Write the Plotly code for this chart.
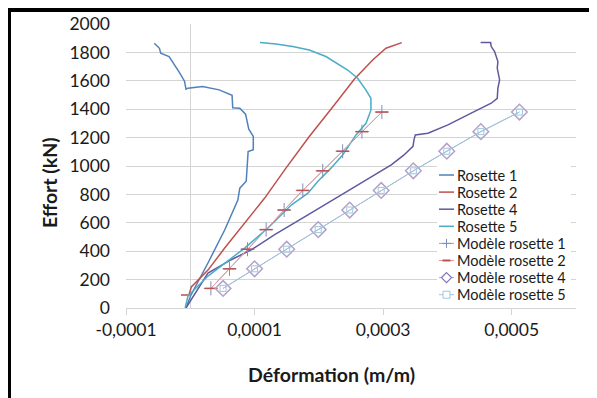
import plotly.graph_objects as go

# ---------------- data ----------------
r1_x = [-0.0000067, 0.000001, 0.0000275, 0.0000535, 0.000074, 0.000077, 0.000087, 0.000088,
        0.000090, 0.000098, 0.000098, 0.000091, 0.000086, 0.000077, 0.000066, 0.000065,
        0.000045, 0.000019, -0.0000036, -0.0000067, -0.000009, -0.000017, -0.000025,
        -0.000033, -0.000046, -0.000048, -0.000056]
r1_y = [0, 91, 317, 549, 760, 844, 893, 985, 1102, 1114, 1208, 1259, 1365, 1407, 1410, 1498,
        1536, 1560, 1548, 1541, 1597, 1660, 1712, 1771, 1794, 1829, 1864]

r2_x = [-0.0000145, -0.000002, 0.0000016, 0.0000275, 0.0000535, 0.0000846, 0.0001157,
        0.0001488, 0.0001851, 0.0002188, 0.0002551, 0.0002837, 0.0003044, 0.000329]
r2_y = [91, 91, 148, 267, 422, 598, 774, 985, 1208, 1400, 1611, 1747, 1829, 1869]

r4_x = [-0.0000067, 0.0000275, 0.0000638, 0.0000949, 0.0001313, 0.0001675, 0.000183,
        0.0002479, 0.0003126, 0.000332, 0.0003464, 0.000348, 0.00035, 0.0003697,
        0.0004008, 0.000437, 0.0004681, 0.0004775, 0.0004785, 0.0004812, 0.0004775,
        0.0004785, 0.0004734, 0.0004681, 0.0004672, 0.0004516]
r4_y = [0, 246, 340, 410, 516, 610, 656, 832, 1008, 1076, 1138, 1184, 1219, 1231, 1290,
        1372, 1442, 1477, 1548, 1606, 1688, 1735, 1806, 1841, 1869, 1869]

r5_x = [-0.000008, -0.0000036, 0.0000275, 0.0000535, 0.0000846, 0.0001208, 0.0001571,
        0.000183, 0.0001986, 0.0002188, 0.000237, 0.0002577, 0.0002733, 0.000281, 0.000281,
        0.0002733, 0.0002603, 0.0002448, 0.0002317, 0.000211, 0.0001851, 0.0001593,
        0.0001333, 0.0001084]
r5_y = [0, 84, 225, 317, 422, 563, 725, 809, 893, 985, 1078, 1219, 1301, 1393, 1477, 1534,
        1618, 1676, 1712, 1771, 1817, 1841, 1859, 1869]

m12_x = [0.000032, 0.000061, 0.000089, 0.000118, 0.000146, 0.000175, 0.000206, 0.000237,
         0.000267, 0.000298]
m45_x = [0.000051, 0.000100, 0.000150, 0.000199, 0.000248, 0.000297, 0.000347, 0.000399,
         0.000452, 0.000512]
model_y = [138, 276, 414, 552, 690, 828, 966, 1104, 1242, 1380]

series_names = ["Rosette 1", "Rosette 2", "Rosette 4", "Rosette 5",
                "Modèle rosette 1", "Modèle rosette 2", "Modèle rosette 4", "Modèle rosette 5"]

x_ticks = [-0.0001, 0.0001, 0.0003, 0.0005]
x_tick_labels = ["-0,0001", "0,0001", "0,0003", "0,0005"]
y_ticks = list(range(0, 2001, 200))

# ---------------- styles ----------------
C_R1, C_R2, C_R4, C_R5 = "#4F81BD", "#C0504D", "#5F5A9E", "#4BACC6"
C_M1_LINE, C_M1_MK = "#8EA6C8", "#7F8FB8"
C_M2_LINE, C_M2_MK = "#E39A98", "#C0504D"
C_M4_LINE, C_M4_MK = "#B3A2C7", "#7E78B8"
C_M5 = "#9CC7DE"

# ---------------- layout constants ----------------
W, H = 597, 398
L, R, T, B = 118, 29, 16, 98
PW, PH = W - L - R, H - T - B
FONT = "Lato"
TXT = "#1a1a1a"


def px_x(p):
    return (p - L) / PW


def px_y(q):
    return (H - B - q) / PH


fig = go.Figure()

fig.add_trace(go.Scatter(x=r1_x, y=r1_y, mode="lines", name=series_names[0],
                         line=dict(color=C_R1, width=1.5)))
fig.add_trace(go.Scatter(x=r2_x, y=r2_y, mode="lines", name=series_names[1],
                         line=dict(color=C_R2, width=1.5)))
fig.add_trace(go.Scatter(x=r4_x, y=r4_y, mode="lines", name=series_names[2],
                         line=dict(color=C_R4, width=1.5)))
fig.add_trace(go.Scatter(x=r5_x, y=r5_y, mode="lines", name=series_names[3],
                         line=dict(color=C_R5, width=1.5)))
fig.add_trace(go.Scatter(x=m12_x, y=model_y, mode="lines+markers", name=series_names[4],
                         line=dict(color=C_M1_LINE, width=1),
                         marker=dict(symbol="cross-thin", size=10,
                                     line=dict(color=C_M1_MK, width=1))))
fig.add_trace(go.Scatter(x=m12_x, y=model_y, mode="lines+markers", name=series_names[5],
                         line=dict(color=C_M2_LINE, width=1),
                         marker=dict(symbol="line-ew", size=9,
                                     line=dict(color=C_M2_MK, width=1.5))))
fig.add_trace(go.Scatter(x=m45_x, y=model_y, mode="lines+markers", name=series_names[6],
                         line=dict(color=C_M4_LINE, width=1),
                         marker=dict(symbol="diamond-open", size=12,
                                     line=dict(color=C_M4_MK, width=1.5))))
fig.add_trace(go.Scatter(x=m45_x, y=model_y, mode="lines+markers", name=series_names[7],
                         line=dict(color=C_M5, width=1),
                         marker=dict(symbol="square-open", size=6,
                                     line=dict(color=C_M5, width=1))))
fig.update_traces(showlegend=False)

shapes = []
annotations = []

# ---- hand-drawn legend box (Excel style: short line + marker, tight spacing) ----
LEG_X0, LEG_X1, LEG_Y0, LEG_Y1 = 429, 563, 158, 298
shapes.append(dict(type="rect", xref="paper", yref="paper", layer="above",
                   x0=px_x(LEG_X0), x1=px_x(LEG_X1), y0=px_y(LEG_Y0), y1=px_y(LEG_Y1),
                   fillcolor="white", line=dict(width=0)))
legend_style = [
    (C_R1, None, None), (C_R2, None, None), (C_R4, None, None), (C_R5, None, None),
    (C_M1_LINE, "plus", C_M1_MK), (C_M2_LINE, "dash", C_M2_MK),
    (C_M4_LINE, "diamond", C_M4_MK), (C_M5, "square", C_M5),
]
SEG0, SEG1, MID = 431, 446, 438.5
for i, (name, (lc, mk, mc)) in enumerate(zip(series_names, legend_style)):
    yc = 167 + i * 17.1
    shapes.append(dict(type="line", xref="paper", yref="paper", layer="above",
                       x0=px_x(SEG0), x1=px_x(SEG1), y0=px_y(yc), y1=px_y(yc),
                       line=dict(color=lc, width=1.5 if mk is None else 1)))
    if mk == "plus":
        shapes.append(dict(type="line", xref="paper", yref="paper", layer="above",
                           x0=px_x(MID - 4.5), x1=px_x(MID + 4.5), y0=px_y(yc), y1=px_y(yc),
                           line=dict(color=mc, width=1)))
        shapes.append(dict(type="line", xref="paper", yref="paper", layer="above",
                           x0=px_x(MID), x1=px_x(MID), y0=px_y(yc - 4.5), y1=px_y(yc + 4.5),
                           line=dict(color=mc, width=1)))
    elif mk == "dash":
        shapes.append(dict(type="line", xref="paper", yref="paper", layer="above",
                           x0=px_x(MID - 4), x1=px_x(MID + 4), y0=px_y(yc), y1=px_y(yc),
                           line=dict(color=mc, width=2)))
    elif mk == "diamond":
        d = 5
        path = "M {a},{b} L {c},{e} L {a},{f} L {g},{e} Z".format(
            a=px_x(MID), b=px_y(yc - d), c=px_x(MID + d), e=px_y(yc),
            f=px_y(yc + d), g=px_x(MID - d))
        shapes.append(dict(type="path", xref="paper", yref="paper", layer="above",
                           path=path, fillcolor="white", line=dict(color=mc, width=1.3)))
    elif mk == "square":
        shapes.append(dict(type="rect", xref="paper", yref="paper", layer="above",
                           x0=px_x(MID - 3.5), x1=px_x(MID + 3.5),
                           y0=px_y(yc - 3.5), y1=px_y(yc + 3.5),
                           fillcolor="white", line=dict(color=mc, width=1)))
    annotations.append(dict(text=name, xref="paper", yref="paper", x=px_x(447), y=px_y(yc),
                            xanchor="left", yanchor="middle", showarrow=False,
                            font=dict(family=FONT, size=14.5, color=TXT)))

# ---- black frame of the picture (top, left, bottom) ----
for fx0, fx1, fy0, fy1 in [(0, W, 0, 4), (0, 3, 0, H), (0, W, 395.5, H)]:
    shapes.append(dict(type="rect", xref="paper", yref="paper", layer="above",
                       x0=px_x(fx0), x1=px_x(fx1), y0=px_y(fy0), y1=px_y(fy1),
                       fillcolor="black", line=dict(width=0)))

annotations += [
    dict(text="<b>Déformation (m/m)</b>", xref="paper", yref="paper",
         x=px_x(323), y=px_y(366), showarrow=False, xanchor="center", yanchor="middle",
         font=dict(family=FONT, size=19.5, color=TXT)),
    dict(text="<b>Effort (kN)</b>", xref="paper", yref="paper",
         x=px_x(41), y=px_y(175), showarrow=False, xanchor="center", yanchor="middle",
         textangle=-90, font=dict(family=FONT, size=19.5, color=TXT)),
]

fig.update_layout(
    width=W, height=H,
    margin=dict(l=L, r=R, t=T, b=B, pad=0, autoexpand=False),
    paper_bgcolor="white", plot_bgcolor="white",
    font=dict(family=FONT, size=17.5, color=TXT),
    showlegend=False,
    xaxis=dict(range=[-0.0001, 0.0006], tickvals=x_ticks, ticktext=x_tick_labels,
               showgrid=False, zeroline=True, zerolinecolor="#d4d4d4", zerolinewidth=1,
               showline=True, linecolor="#d4d4d4", linewidth=1,
               ticks="outside", ticklen=6, tickcolor="#d4d4d4", ticklabelstandoff=0,
               automargin=False),
    yaxis=dict(range=[0, 2000], tickvals=y_ticks, showgrid=True, gridcolor="#d4d4d4",
               gridwidth=1, zeroline=False, showline=False, ticks="",
               ticklabelstandoff=15, automargin=False),
    shapes=shapes,
    annotations=annotations,
)

fig.write_html("out.html")
